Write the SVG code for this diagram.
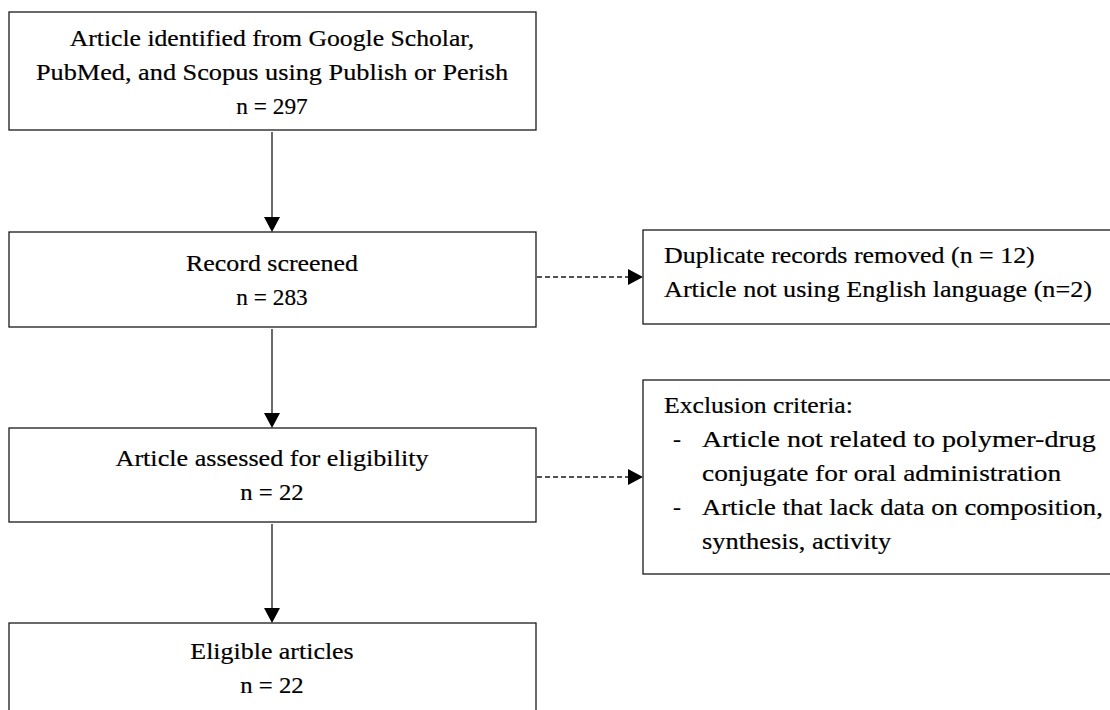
<svg xmlns="http://www.w3.org/2000/svg" width="1110" height="710" viewBox="0 0 1110 710">
<style>
.box{fill:#ffffff;stroke:#1a1a1a;stroke-width:1.3}
.t{font-family:"Liberation Serif","Times New Roman",serif;font-size:24px;fill:#000000;stroke:#000000;stroke-width:0.2}
.c{text-anchor:middle}
.solid{stroke:#1a1a1a;stroke-width:1.3;fill:none}
.dash{stroke:#1a1a1a;stroke-width:1.3;fill:none;stroke-dasharray:5 3}
</style>
<defs>
<marker id="ah" markerUnits="userSpaceOnUse" markerWidth="16" markerHeight="16" refX="5" refY="8" orient="auto">
<path d="M0,0 L15,8 L0,16 Z" fill="#000000"/>
</marker>
</defs>
<rect width="1110" height="710" fill="#ffffff"/>
<g id="connectors">
<line class="solid" x1="272" y1="132" x2="272" y2="222" marker-end="url(#ah)"/>
<line class="solid" x1="272" y1="329" x2="272" y2="418" marker-end="url(#ah)"/>
<line class="solid" x1="272" y1="524" x2="272" y2="613" marker-end="url(#ah)"/>
<line class="dash" x1="537" y1="277" x2="633" y2="277" marker-end="url(#ah)"/>
<line class="dash" x1="537" y1="477" x2="633" y2="477" marker-end="url(#ah)"/>
</g>
<g id="node-identified">
<rect class="box" x="9" y="12" width="527" height="118"/>
<text class="t c" transform="translate(272,46) scale(1.07,1)">Article identified from Google Scholar,</text>
<text class="t c" transform="translate(272,80) scale(1.095,1)">PubMed, and Scopus using Publish or Perish</text>
<text class="t c" transform="translate(272,114) scale(0.97,1)">n = 297</text>
</g>
<g id="node-screened">
<rect class="box" x="9" y="232" width="527" height="95"/>
<text class="t c" transform="translate(272,271) scale(1.08,1)">Record screened</text>
<text class="t c" transform="translate(272,305) scale(0.97,1)">n = 283</text>
</g>
<g id="node-duplicates">
<rect class="box" x="643" y="230" width="480" height="94"/>
<text class="t" transform="translate(664,263) scale(1.08,1)">Duplicate records removed (n = 12)</text>
<text class="t" transform="translate(664,297) scale(1.09,1)">Article not using English language (n=2)</text>
</g>
<g id="node-assessed">
<rect class="box" x="9" y="428" width="527" height="94"/>
<text class="t c" transform="translate(272,466) scale(1.09,1)">Article assessed for eligibility</text>
<text class="t c" transform="translate(272,500) scale(1.03,1)">n = 22</text>
</g>
<g id="node-exclusion">
<rect class="box" x="643" y="380" width="480" height="194"/>
<text class="t" transform="translate(664,413) scale(1.07,1)">Exclusion criteria:</text>
<text class="t" transform="translate(673,447)">-</text>
<text class="t" transform="translate(702,447) scale(1.17,1)">Article not related to polymer-drug</text>
<text class="t" transform="translate(702,481) scale(1.14,1)">conjugate for oral administration</text>
<text class="t" transform="translate(673,515)">-</text>
<text class="t" transform="translate(702,515) scale(1.11,1)">Article that lack data on composition,</text>
<text class="t" transform="translate(702,549) scale(1.1,1)">synthesis, activity</text>
</g>
<g id="node-eligible">
<rect class="box" x="9" y="623" width="527" height="100"/>
<text class="t c" transform="translate(272,659) scale(1.08,1)">Eligible articles</text>
<text class="t c" transform="translate(272,693) scale(1.03,1)">n = 22</text>
</g>
</svg>
